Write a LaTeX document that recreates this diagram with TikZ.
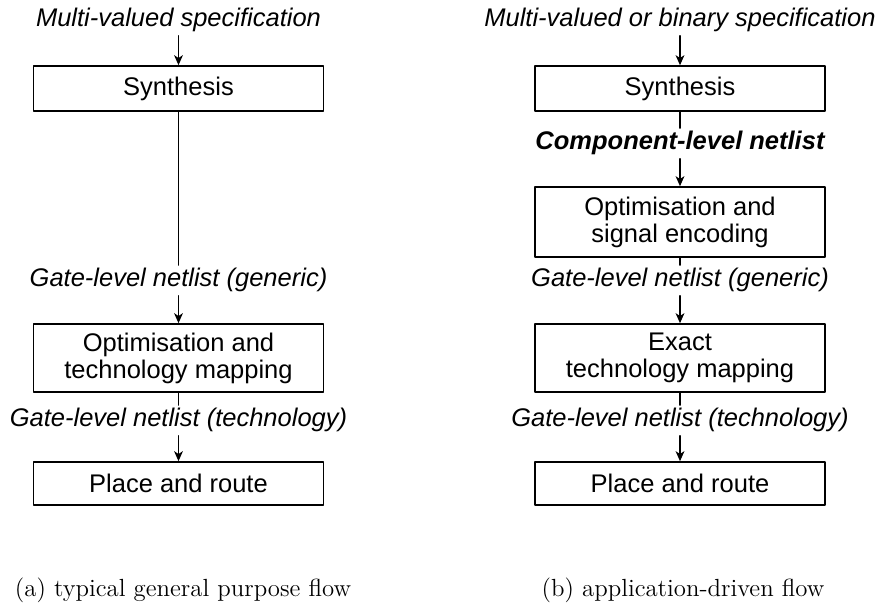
\documentclass[tikz,border=0pt]{standalone}
\usepackage{fontspec}
\newfontfamily\arialfont{Liberation Sans}
\usetikzlibrary{arrows.meta}
\begin{document}
\begin{tikzpicture}[x=0.5pt,y=-0.5pt,>={Stealth[length=5pt,width=4.4pt,inset=1.4pt]}, line join=round, line cap=round,
	box/.style={draw,line width=0.8pt,minimum width=145pt,inner sep=0pt,align=center,
		font=\arialfont\fontsize{12.75}{13.5}\selectfont},
	lbl/.style={anchor=base,inner sep=1.5pt,font=\arialfont\itshape\fontsize{12.75}{14}\selectfont},
	capt/.style={anchor=base,inner sep=0pt,font=\fontsize{12.4}{14}\selectfont},
	flow/.style={line width=0.65pt}]
	\def\xa{178.5} \def\xb{680} % column centres
	\useasboundingbox (0,0) rectangle (879,608);
	% (a) general purpose flow
	\path
	(\xa,27) node[lbl] (specA) {Multi-valued specification}
	(\xa,88.5) node[box,minimum height=22.5pt] (synA) {Synthesis}
	(\xa,287) node[lbl] (genA) {Gate-level netlist (generic)}
	(\xa,358) node[box,minimum height=34pt] (optA) {Optimisation and\\technology mapping}
	(\xa,427) node[lbl] (techA) {Gate-level netlist (technology)}
	(\xa,483.5) node[box,minimum height=21.5pt] (parA) {Place and route}
	;
	\draw[flow,->] (specA.south) -- (synA.north);
	\draw[flow] (synA.south) -- (genA.north);
	\draw[flow,->] (genA.south) -- (optA.north);
	\draw[flow] (optA.south) -- (techA.north);
	\draw[flow,->] (techA.south) -- (parA.north);
	% (b) application-driven flow
	\path
	(\xb,27) node[lbl] (specB) {Multi-valued or binary specification}
	(\xb,88.5) node[box,minimum height=22.5pt] (synB) {Synthesis}
	(\xb,150) node[lbl,font=\arialfont\bfseries\itshape\fontsize{12.75}{14}\selectfont] (compB) {Component-level netlist}
	(\xb,222) node[box,minimum height=35pt] (optB) {Optimisation and\\signal encoding}
	(\xb,287) node[lbl] (genB) {Gate-level netlist (generic)}
	(\xb,358) node[box,minimum height=34pt] (mapB) {Exact\\technology mapping}
	(\xb,427) node[lbl] (techB) {Gate-level netlist (technology)}
	(\xb,483.5) node[box,minimum height=21.5pt] (parB) {Place and route}
	;
	\draw[flow,->] (specB.south) -- (synB.north);
	\draw[flow] (synB.south) -- (compB.north);
	\draw[flow,->] (compB.south) -- (optB.north);
	\draw[flow] (optB.south) -- (genB.north);
	\draw[flow,->] (genB.south) -- (mapB.north);
	\draw[flow] (mapB.south) -- (techB.north);
	\draw[flow,->] (techB.south) -- (parB.north);
	% captions
	\path
	(183,597) node[capt] (capA) {(a) typical general purpose flow}
	(683,597) node[capt] (capB) {(b) application-driven flow}
	;
\end{tikzpicture}
\end{document}
